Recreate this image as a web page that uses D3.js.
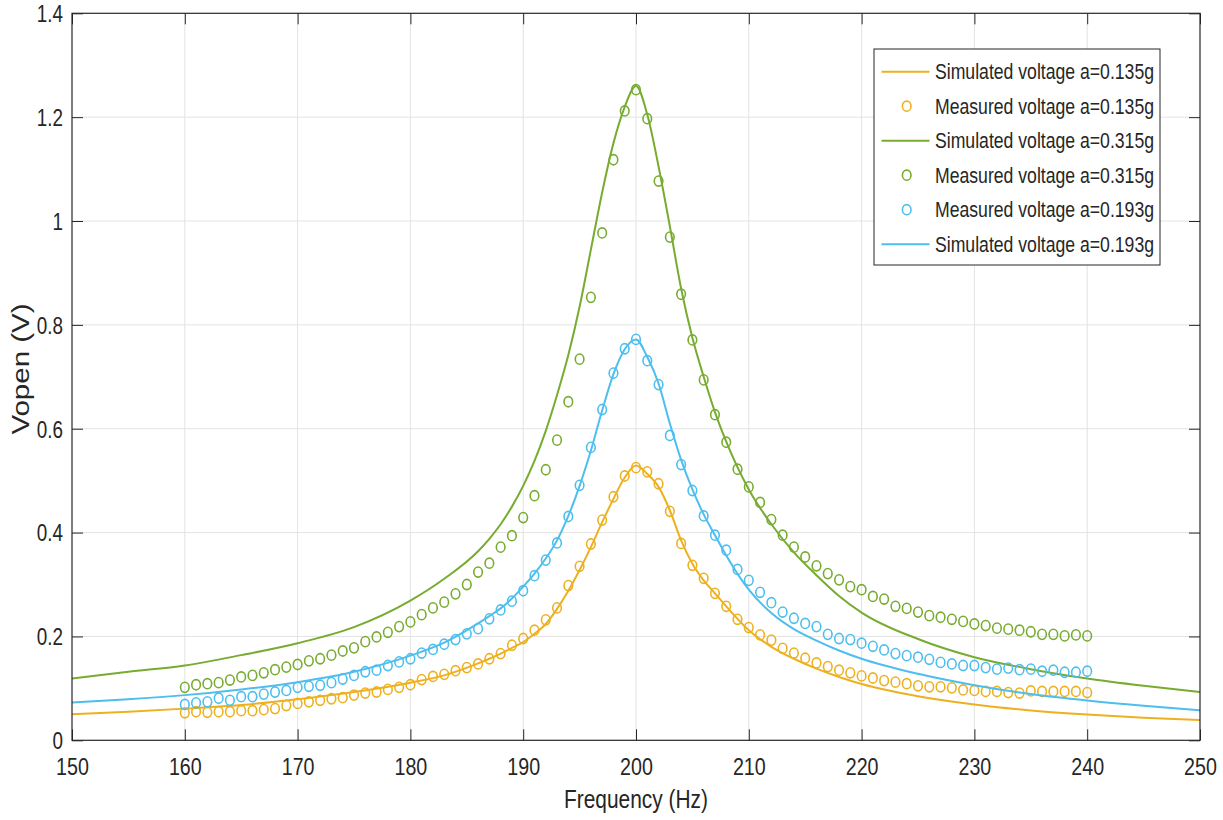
<!DOCTYPE html>
<html>
<head>
<meta charset="utf-8">
<script src="https://cdn.jsdelivr.net/npm/d3@7"></script>
<style>
  html, body { margin: 0; padding: 0; background: #ffffff; }
  svg { display: block; }
  text { font-family: "Liberation Sans", Arial, Helvetica, sans-serif; fill: #262626; }
</style>
</head>
<body>
<svg id="chart" width="1223" height="820"></svg>
<script>
// Frequency sweep of the measurements (Hz)
const measuredFreq = d3.range(160, 241);

// Measured open-circuit voltage (V)
const measured0135 = [
  0.053, 0.055, 0.054, 0.055, 0.055, 0.057, 0.057, 0.059, 0.061, 0.067,
  0.071, 0.074, 0.077, 0.080, 0.082, 0.087, 0.091, 0.093, 0.098, 0.102,
  0.107, 0.117, 0.123, 0.127, 0.134, 0.140, 0.147, 0.157, 0.167, 0.183,
  0.196, 0.212, 0.232, 0.255, 0.298, 0.335, 0.378, 0.424, 0.469, 0.509,
  0.525, 0.517, 0.494, 0.441, 0.379, 0.337, 0.312, 0.283, 0.258, 0.233,
  0.217, 0.203, 0.193, 0.177, 0.168, 0.158, 0.149, 0.142, 0.135, 0.130,
  0.124, 0.120, 0.115, 0.112, 0.109, 0.105, 0.103, 0.103, 0.101, 0.097,
  0.096, 0.094, 0.094, 0.092, 0.091, 0.095, 0.094, 0.094, 0.094, 0.094,
  0.092
];
const measured0315 = [
  0.102, 0.107, 0.109, 0.111, 0.116, 0.122, 0.125, 0.130, 0.136, 0.141,
  0.146, 0.153, 0.157, 0.164, 0.172, 0.178, 0.190, 0.199, 0.208, 0.219,
  0.228, 0.242, 0.255, 0.266, 0.282, 0.300, 0.324, 0.341, 0.372, 0.394,
  0.429, 0.471, 0.521, 0.578, 0.652, 0.734, 0.853, 0.977, 1.118, 1.212,
  1.253, 1.197, 1.077, 0.969, 0.859, 0.771, 0.694, 0.627, 0.574, 0.522,
  0.488, 0.458, 0.425, 0.395, 0.372, 0.353, 0.336, 0.321, 0.309, 0.296,
  0.290, 0.277, 0.272, 0.258, 0.254, 0.247, 0.240, 0.237, 0.233, 0.229,
  0.224, 0.221, 0.216, 0.214, 0.212, 0.209, 0.204, 0.204, 0.201, 0.203,
  0.201
];
const measured0193 = [
  0.069, 0.072, 0.074, 0.081, 0.077, 0.084, 0.084, 0.089, 0.093, 0.096,
  0.102, 0.104, 0.106, 0.111, 0.118, 0.125, 0.132, 0.135, 0.144, 0.151,
  0.157, 0.168, 0.175, 0.185, 0.194, 0.205, 0.215, 0.234, 0.251, 0.268,
  0.288, 0.317, 0.347, 0.380, 0.431, 0.491, 0.564, 0.637, 0.707, 0.754,
  0.772, 0.731, 0.685, 0.587, 0.531, 0.481, 0.432, 0.395, 0.366, 0.329,
  0.308, 0.285, 0.265, 0.247, 0.235, 0.225, 0.219, 0.204, 0.196, 0.194,
  0.187, 0.181, 0.174, 0.167, 0.163, 0.160, 0.156, 0.150, 0.147, 0.144,
  0.144, 0.140, 0.137, 0.139, 0.136, 0.137, 0.133, 0.135, 0.131, 0.131,
  0.133
];

// Simulated response, sampled along the frequency axis (Hz)
const simFreq = [150, 155, 160, 165, 170, 175, 180, 183, 186, 187, 188, 189, 190, 191, 192, 193, 194, 195, 196, 197, 198, 199,
                 200, 201, 202, 203, 204, 205, 206, 207, 208, 210, 212, 214, 216, 218, 220, 225, 230, 235, 240, 245, 250];
const simulated0135 = [0.050, 0.055, 0.061, 0.068, 0.079, 0.093, 0.111, 0.125, 0.148, 0.157, 0.167, 0.178, 0.189, 0.205, 0.224, 0.253, 0.288, 0.328, 0.372, 0.420, 0.465, 0.506,
                       0.529, 0.513, 0.488, 0.443, 0.385, 0.340, 0.308, 0.283, 0.258, 0.212, 0.180, 0.157, 0.138, 0.122, 0.1085, 0.085, 0.069, 0.0575, 0.0495, 0.0435, 0.039];
const simulated0315 = [0.119, 0.132, 0.144, 0.164, 0.187, 0.218, 0.269, 0.311, 0.364, 0.388, 0.416, 0.450, 0.490, 0.538, 0.596, 0.665, 0.742, 0.835, 0.945, 1.055, 1.150, 1.220,
                       1.260, 1.205, 1.105, 0.990, 0.870, 0.775, 0.700, 0.632, 0.575, 0.483, 0.416, 0.362, 0.318, 0.278, 0.246, 0.195, 0.160, 0.137, 0.119, 0.105, 0.093];
const simulated0193 = [0.073, 0.079, 0.087, 0.098, 0.112, 0.132, 0.163, 0.188, 0.225, 0.239, 0.254, 0.273, 0.296, 0.321, 0.350, 0.385, 0.432, 0.490, 0.558, 0.635, 0.705, 0.753,
                       0.772, 0.738, 0.687, 0.610, 0.540, 0.483, 0.435, 0.395, 0.356, 0.290, 0.245, 0.214, 0.192, 0.173, 0.157, 0.128, 0.106, 0.089, 0.0765, 0.0665, 0.058];

const xTicks = [150, 160, 170, 180, 190, 200, 210, 220, 230, 240, 250];
const yTicks = [0, 0.2, 0.4, 0.6, 0.8, 1, 1.2, 1.4];

const colOrange = "#EDB120";
const colGreen = "#77AC30";
const colBlue = "#4DBEEE";

// Legend entries in drawing order
const series = [
  { kind: "line",   label: "Simulated voltage a=0.135g", color: colOrange, xs: simFreq,      ys: simulated0135 },
  { kind: "marker", label: "Measured voltage a=0.135g",  color: colOrange, xs: measuredFreq, ys: measured0135 },
  { kind: "line",   label: "Simulated voltage a=0.315g", color: colGreen,  xs: simFreq,      ys: simulated0315 },
  { kind: "marker", label: "Measured voltage a=0.315g",  color: colGreen,  xs: measuredFreq, ys: measured0315 },
  { kind: "marker", label: "Measured voltage a=0.193g",  color: colBlue,   xs: measuredFreq, ys: measured0193 },
  { kind: "line",   label: "Simulated voltage a=0.193g", color: colBlue,   xs: simFreq,      ys: simulated0193 }
];

const plot = { left: 72, right: 1200, top: 13.3, bottom: 740.3 };
const sx = 0.82;            // horizontal glyph compression
const tickLen = 11;
const axisColor = "#262626";
const gridColor = "#e3e3e3";

const svg = d3.select("#chart");
const x = d3.scaleLinear().domain([150, 250]).range([plot.left, plot.right]);
const y = d3.scaleLinear().domain([0, 1.4]).range([plot.bottom, plot.top]);

// Grid
const grid = svg.append("g").attr("stroke", gridColor).attr("stroke-width", 1);
grid.selectAll(".gx").data(xTicks.slice(1, -1)).join("line")
  .attr("x1", d => x(d)).attr("x2", d => x(d))
  .attr("y1", plot.top).attr("y2", plot.bottom);
grid.selectAll(".gy").data(yTicks.slice(1, -1)).join("line")
  .attr("x1", plot.left).attr("x2", plot.right)
  .attr("y1", d => y(d)).attr("y2", d => y(d));

// Clip
svg.append("clipPath").attr("id", "plotClip").append("rect")
  .attr("x", plot.left).attr("y", plot.top)
  .attr("width", plot.right - plot.left).attr("height", plot.bottom - plot.top);

const marks = svg.append("g").attr("clip-path", "url(#plotClip)");
const lineGen = d3.line().curve(d3.curveMonotoneX);

series.forEach(s => {
  const pts = s.xs.map((f, i) => [x(f), y(s.ys[i])]);
  if (s.kind === "line") {
    marks.append("path")
      .attr("d", lineGen(pts))
      .attr("fill", "none")
      .attr("stroke", s.color)
      .attr("stroke-width", 2)
      .attr("stroke-linejoin", "round");
  } else {
    marks.append("g").selectAll("ellipse").data(pts).join("ellipse")
      .attr("cx", d => d[0]).attr("cy", d => d[1])
      .attr("rx", 4.3).attr("ry", 5.1)
      .attr("fill", "none")
      .attr("stroke", s.color)
      .attr("stroke-width", 1.6);
  }
});

// Axes (ticks pointing inward on all four sides)
function styleAxis(g) {
  g.select(".domain").remove();
  g.selectAll(".tick line").attr("stroke", axisColor).attr("stroke-width", 1);
}

const xAxis = svg.append("g").attr("transform", `translate(0,${plot.bottom})`)
  .call(d3.axisBottom(x).tickValues(xTicks).tickSizeInner(-tickLen).tickSizeOuter(0).tickPadding(17.5).tickFormat(d3.format("d")));
styleAxis(xAxis);
xAxis.selectAll(".tick text")
  .attr("font-size", 24).attr("font-family", null).attr("fill", axisColor)
  .attr("transform", `scale(${sx},1)`);

const yAxis = svg.append("g").attr("transform", `translate(${plot.left},0)`)
  .call(d3.axisLeft(y).tickValues(yTicks).tickSizeInner(-tickLen).tickSizeOuter(0).tickPadding(11).tickFormat(d => String(d)));
styleAxis(yAxis);
yAxis.selectAll(".tick text")
  .attr("font-size", 23).attr("font-family", null).attr("fill", axisColor)
  .attr("dy", "0.36em")
  .attr("transform", `scale(${sx},1)`);

const xTop = svg.append("g").attr("transform", `translate(0,${plot.top})`)
  .call(d3.axisTop(x).tickValues(xTicks).tickSizeInner(-tickLen).tickSizeOuter(0).tickFormat(""));
styleAxis(xTop);
const yRight = svg.append("g").attr("transform", `translate(${plot.right},0)`)
  .call(d3.axisRight(y).tickValues(yTicks).tickSizeInner(-tickLen).tickSizeOuter(0).tickFormat(""));
styleAxis(yRight);

// Box
svg.append("rect")
  .attr("x", plot.left).attr("y", plot.top)
  .attr("width", plot.right - plot.left).attr("height", plot.bottom - plot.top)
  .attr("fill", "none").attr("stroke", axisColor).attr("stroke-width", 1.2);

// Axis labels
svg.append("text")
  .attr("transform", `translate(636,808) scale(${sx},1)`)
  .attr("text-anchor", "middle").attr("font-size", 25.5)
  .text("Frequency (Hz)");
svg.append("text")
  .attr("transform", `translate(28.5,369) scale(${sx},1) rotate(-90)`)
  .attr("text-anchor", "middle").attr("font-size", 29.5)
  .text("Vopen (V)");

// Legend
const lg = { x: 874, y: 49, w: 286, h: 216, row0: 71.7, rowStep: 34.5 };
const legend = svg.append("g");
legend.append("rect")
  .attr("x", lg.x).attr("y", lg.y).attr("width", lg.w).attr("height", lg.h)
  .attr("fill", "#ffffff").attr("stroke", axisColor).attr("stroke-width", 1);

series.forEach((s, i) => {
  const cy = lg.row0 + i * lg.rowStep;
  if (s.kind === "line") {
    legend.append("line")
      .attr("x1", 881.5).attr("x2", 929.5).attr("y1", cy).attr("y2", cy)
      .attr("stroke", s.color).attr("stroke-width", 2);
  } else {
    legend.append("ellipse")
      .attr("cx", 906.7).attr("cy", cy).attr("rx", 4.3).attr("ry", 5.1)
      .attr("fill", "none").attr("stroke", s.color).attr("stroke-width", 1.6);
  }
  legend.append("text")
    .attr("transform", `translate(935,${cy + 7.6}) scale(${sx},1)`)
    .attr("font-size", 21.5)
    .text(s.label);
});
</script>
</body>
</html>
